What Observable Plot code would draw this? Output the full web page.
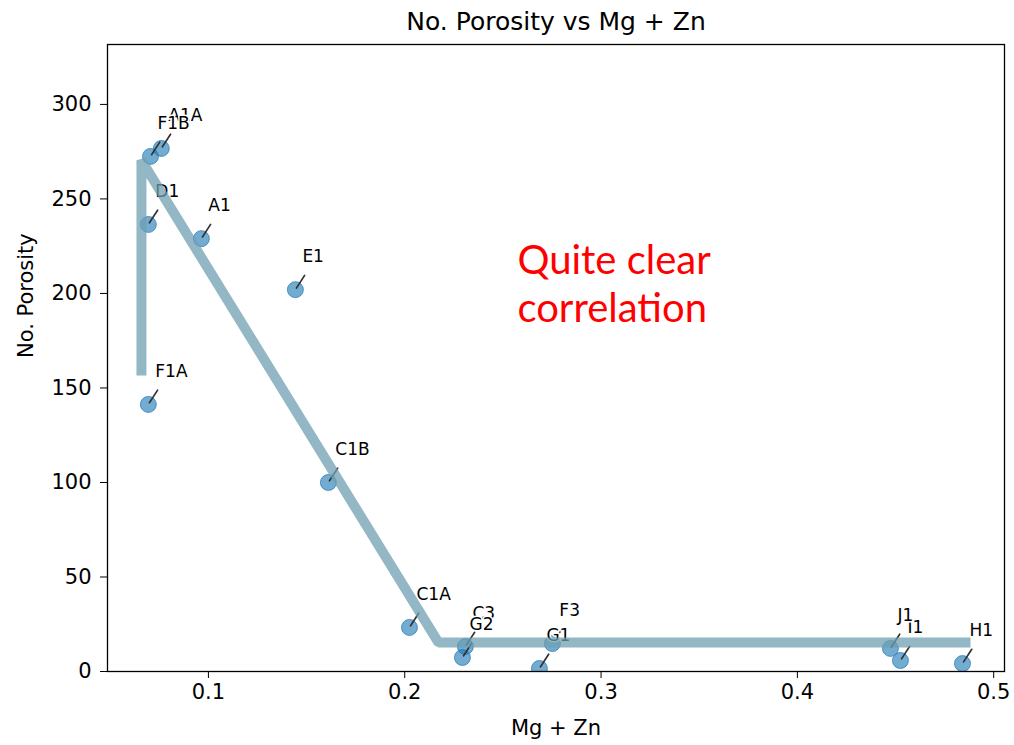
<!DOCTYPE html>
<html>
<head>
<meta charset="utf-8">
<script src="https://cdn.jsdelivr.net/npm/d3@7"></script>
<script src="https://cdn.jsdelivr.net/npm/@observablehq/plot@0.6"></script>
<style>
  body { margin: 0; background: white; }
</style>
</head>
<body>
<div id="chart"></div>
<script>
// Sample labels, drawn in this order (later labels cover earlier ones)
const samples = ["A1A", "F1B", "D1", "A1", "E1", "F1A", "C1B", "C1A", "C3", "G2", "F3", "G1", "I1", "J1", "H1"];
const mgZn     = [0.076, 0.0705, 0.0694, 0.0964, 0.1443, 0.0694, 0.1611, 0.2024, 0.2309, 0.2294, 0.2752, 0.2686, 0.4525, 0.4474, 0.4841];
const porosity = [276.7, 272.5, 236.5, 229, 202, 141.3, 100, 23.3, 13.2, 7.4, 14.8, 1.6, 5.8, 12.2, 4.2];

// Hand-drawn trend line (vertices)
const trendX = [0.0659, 0.0659, 0.2172, 0.4882];
const trendY = [156.6, 270.4, 15.3, 15.3];

const xTicks = [0.1, 0.2, 0.3, 0.4, 0.5];
const yTicks = [0, 50, 100, 150, 200, 250, 300];

const titleText = "No. Porosity vs Mg + Zn";
const xLabel = "Mg + Zn";
const yLabel = "No. Porosity";
const noteText = "Quite clear\ncorrelation";

const points = samples.map((s, i) => ({label: s, x: mgZn[i], y: porosity[i]}));
const trend = trendX.map((x, i) => ({x, y: trendY[i]}));

const font = "DejaVu Sans, sans-serif";
const blue = "#1f77b4";

const chart = Plot.plot({
  width: 1014,
  height: 745,
  marginLeft: 107,
  marginRight: 10,
  marginTop: 44,
  marginBottom: 74,
  style: {fontFamily: font, color: "black", background: "white", overflow: "visible"},
  x: {domain: [0.0486, 0.5055]},
  y: {domain: [0, 331.7]},
  marks: [
    Plot.axisX({ticks: xTicks, tickSize: 7, tickPadding: 6, fontSize: 21, label: null, tickFormat: d => String(d)}),
    Plot.axisY({ticks: yTicks, tickSize: 7, tickPadding: 9, fontSize: 21, label: null, tickFormat: d => String(d)}),
    Plot.dot(points, {x: "x", y: "y", r: 8, fill: blue, fillOpacity: 0.62, stroke: blue, strokeOpacity: 0.7, strokeWidth: 1, clip: true}),
    Plot.vector(points, {
      x: "x", y: "y", length: 17, rotate: 33, anchor: "start",
      stroke: "#333", strokeWidth: 1.7,
      shape: {draw(ctx, l) { ctx.moveTo(0, -2); ctx.lineTo(0, -l); }}
    }),
    Plot.text(points, {
      x: "x", y: "y", text: "label", dx: 7, dy: -33, textAnchor: "start",
      fontSize: 17, fill: "black", stroke: "white", strokeWidth: 3, paintOrder: "stroke"
    }),
    Plot.line(trend, {x: "x", y: "y", stroke: "#6f9fb0", strokeOpacity: 0.75, strokeWidth: 10, strokeLinejoin: "miter", strokeLinecap: "butt"}),
    Plot.frame({stroke: "black", strokeWidth: 1.3}),
    Plot.text([titleText], {frameAnchor: "top", dy: -23, fontSize: 25, lineAnchor: "middle", fill: "black"}),
    Plot.text([xLabel], {frameAnchor: "bottom", dy: 57, fontSize: 21, lineAnchor: "middle", fill: "black"}),
    Plot.text([yLabel], {frameAnchor: "left", dx: -81, rotate: -90, fontSize: 21, lineAnchor: "middle", fill: "black"}),
    Plot.text([noteText], {x: () => 0.2574, y: () => 205.8, textAnchor: "start", lineAnchor: "middle", lineHeight: 1.2, fontSize: 40, fill: "#ff0000", fontFamily: "Lato, 'Open Sans', sans-serif"})
  ]
});

document.getElementById("chart").appendChild(chart);
</script>
</body>
</html>
